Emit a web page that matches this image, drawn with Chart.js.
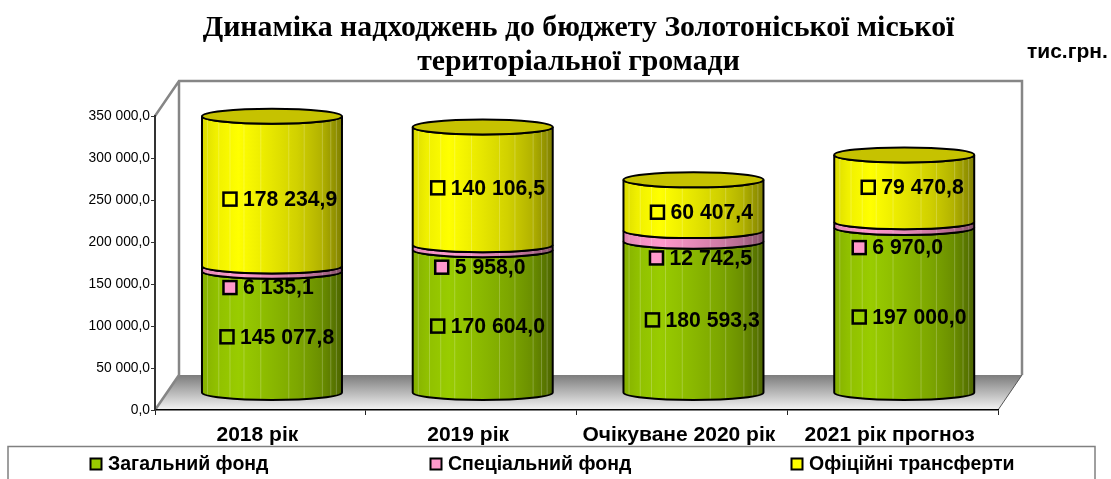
<!DOCTYPE html>
<html>
<head>
<meta charset="utf-8">
<title>Динаміка надходжень</title>
<script src="https://cdn.jsdelivr.net/npm/chart.js@4"></script>
<style>
  html, body { margin: 0; padding: 0; background: #fff; }
  canvas { display: block; }
</style>
</head>
<body>
<canvas id="budgetChart" width="1111" height="479"></canvas>
<script>
const categories = ["2018 рік", "2019 рік", "Очікуване 2020 рік", "2021 рік прогноз"];
const seriesNames = ["Загальний фонд", "Спеціальний фонд", "Офіційні трансферти"];
const generalFund = [145077.8, 170604.0, 180593.3, 197000.0];
const specialFund = [6135.1, 5958.0, 12742.5, 6970.0];
const transfers = [178234.9, 140106.5, 60407.4, 79470.8];
const titleLines = ["Динаміка надходжень до бюджету Золотоніської міської", "територіальної громади"];
const unitLabel = "тис.грн.";

const seriesColors = [[153, 204, 0], [255, 153, 204], [255, 255, 0]];
const capColor = "#c6c200";

// hand-moved labels in the original: offset of each label marker from its segment centre
const labelShiftX = [[-45, -45, -41, -45], [-42, -41, -37, -45], [-42, -45, -36, -36]];
const labelShiftY = [[5, 5, 3, 7], [19, 20, 22, 23], [8, 2, 7, -1]];

// 3D look: how far the back wall sits from the front axes
const depthX = 24, depthY = 35;
const barShiftX = 11.6, barShiftY = 17, capRy = 7.5;
const shadeStops = [[0, .86], [.1, .94], [.26, 1], [.45, .92], [.68, .82], [.85, .7], [1, .5]];
const streaks = [.04, .12, .2, .3, .42, .62, .73, .86, .92, .96];

const rgb = (c, k = 1) => `rgb(${c.map(v => Math.round(v * k)).join(",")})`;
const fmt = v => v.toFixed(1).replace(".", ",").replace(/\B(?=(\d{3})+(?!\d))/g, " ");

const scene3d = {
  id: "scene3d",
  afterLayout(chart) {
    chart.titleBlock.left += 4; // title is a touch right of the plot centre
  },
  beforeDraw(chart) {
    const { ctx, chartArea: a } = chart;
    ctx.save();
    // floor
    const floor = ctx.createLinearGradient(0, a.bottom - depthY, 0, a.bottom);
    floor.addColorStop(0, "#7c7c7c");
    floor.addColorStop(1, "#f4f4f4");
    ctx.fillStyle = floor;
    ctx.beginPath();
    ctx.moveTo(a.left + depthX, a.bottom - depthY);
    ctx.lineTo(a.right + depthX, a.bottom - depthY);
    ctx.lineTo(a.right, a.bottom);
    ctx.lineTo(a.left, a.bottom);
    ctx.closePath();
    ctx.fill();
    // walls
    ctx.strokeStyle = "#868686";
    ctx.lineWidth = 2.5;
    ctx.beginPath();
    ctx.moveTo(a.left, a.top);
    ctx.lineTo(a.left + depthX, a.top - depthY);
    ctx.lineTo(a.right + depthX, a.top - depthY);
    ctx.lineTo(a.right + depthX, a.bottom - depthY);
    ctx.moveTo(a.left + depthX, a.top - depthY);
    ctx.lineTo(a.left + depthX, a.bottom - depthY);
    ctx.lineTo(a.left, a.bottom);
    ctx.stroke();
    ctx.lineWidth = 1;
    ctx.strokeStyle = "#555";
    ctx.beginPath();
    ctx.moveTo(a.right + depthX, a.bottom - depthY);
    ctx.lineTo(a.right, a.bottom);
    ctx.stroke();
    ctx.restore();
  },
  afterDatasetsDraw(chart) {
    const { ctx } = chart;
    categories.forEach((_, i) => {
      seriesNames.forEach((_, s) => {
        const el = chart.getDatasetMeta(s).data[i];
        const cx = el.x + barShiftX, rx = el.width / 2;
        const top = el.y - barShiftY, bottom = el.base - barShiftY;
        const left = cx - rx, right = cx + rx;
        const grad = ctx.createLinearGradient(left, 0, right, 0);
        shadeStops.forEach(([p, k]) => grad.addColorStop(p, rgb(seriesColors[s], k)));

        const body = new Path2D();
        body.moveTo(left, top);
        body.lineTo(left, bottom);
        body.ellipse(cx, bottom, rx, capRy, 0, Math.PI, 0, true);
        body.lineTo(right, top);
        body.ellipse(cx, top, rx, capRy, 0, 0, Math.PI, false);
        body.closePath();

        ctx.save();
        ctx.fillStyle = grad;
        ctx.fill(body);
        // faint vertical bands of the old Excel gradient
        ctx.save();
        ctx.clip(body);
        ctx.strokeStyle = "rgba(255,255,255,.22)";
        ctx.lineWidth = 1;
        streaks.forEach(p => {
          ctx.beginPath();
          ctx.moveTo(left + p * el.width, top - capRy);
          ctx.lineTo(left + p * el.width, bottom + capRy);
          ctx.stroke();
        });
        ctx.restore();
        ctx.strokeStyle = "#000";
        ctx.lineWidth = 2;
        ctx.stroke(body);
        if (s === seriesNames.length - 1) {
          ctx.beginPath();
          ctx.ellipse(cx, top, rx, capRy, 0, 0, Math.PI * 2);
          ctx.fillStyle = capColor;
          ctx.fill();
          ctx.stroke();
        }
        ctx.restore();
      });
    });
    // labels go on top of all the cylinders
    ctx.save();
    ctx.textBaseline = "middle";
    ctx.textAlign = "left";
    ctx.font = "bold 21.2px 'Liberation Sans'";
    categories.forEach((_, i) => {
      seriesNames.forEach((_, s) => {
        const el = chart.getDatasetMeta(s).data[i];
        const mx = el.x + barShiftX + labelShiftX[s][i];
        const my = (el.y + el.base) / 2 - barShiftY + labelShiftY[s][i];
        ctx.fillStyle = rgb(seriesColors[s]);
        ctx.strokeStyle = "#000";
        ctx.lineWidth = 2.5;
        ctx.fillRect(mx - 6.5, my - 6.5, 13, 13);
        ctx.strokeRect(mx - 6.5, my - 6.5, 13, 13);
        ctx.fillStyle = "#000";
        ctx.fillText(fmt(chart.data.datasets[s].data[i]), mx + 13, my + 1);
      });
    });
    ctx.restore();
  },
  afterDraw(chart) {
    const { ctx } = chart;
    ctx.save();
    // unit note
    ctx.fillStyle = "#000";
    ctx.textBaseline = "middle";
    ctx.textAlign = "left";
    ctx.font = "bold 21px 'Liberation Sans'";
    ctx.fillText(unitLabel, 1027, 52);
    // legend box
    ctx.strokeStyle = "#808080";
    ctx.lineWidth = 1.5;
    ctx.strokeRect(8, 446.5, 1087, 40);
    const legendX = [96, 436, 797];
    ctx.font = "bold 19.5px 'Liberation Sans'";
    seriesNames.forEach((name, s) => {
      ctx.fillStyle = rgb(seriesColors[s]);
      ctx.strokeStyle = "#000";
      ctx.lineWidth = 2;
      ctx.fillRect(legendX[s] - 5.5, 458.5, 11, 11);
      ctx.strokeRect(legendX[s] - 5.5, 458.5, 11, 11);
      ctx.fillStyle = "#000";
      ctx.fillText(name, legendX[s] + 12, 465);
    });
    ctx.restore();
  }
};

const makeSet = (i, data) => ({
  label: seriesNames[i],
  data,
  backgroundColor: "transparent", // the cylinders are painted by scene3d from these bars
  barPercentage: 140 / 210.75,
  categoryPercentage: 1
});

new Chart(document.getElementById("budgetChart"), {
  type: "bar",
  data: {
    labels: categories,
    datasets: [makeSet(0, generalFund), makeSet(1, specialFund), makeSet(2, transfers)]
  },
  plugins: [scene3d],
  options: {
    responsive: false,
    animation: false,
    layout: { padding: { left: 0, right: 113, top: 0, bottom: 0 } },
    plugins: {
      legend: { display: false },
      tooltip: { enabled: false },
      title: {
        display: true,
        fullSize: false,
        text: titleLines,
        color: "#000",
        font: { family: "'Liberation Serif'", size: 29.8, weight: "bold", lineHeight: 34 / 29.8 },
        padding: { top: 11, bottom: 37 }
      }
    },
    scales: {
      x: {
        stacked: true,
        afterFit(scale) { scale.height = 69; },
        grid: { drawOnChartArea: false, color: "#222", tickLength: 5 },
        border: { color: "#000", width: 1.5 },
        ticks: {
          color: "#000",
          labelOffset: -3,
          padding: 8,
          maxRotation: 0,
          font: { family: "'Liberation Sans'", size: 21, weight: "bold" }
        }
      },
      y: {
        stacked: true,
        min: 0,
        max: 350000,
        afterFit(scale) { scale.width = 155; },
        grid: { drawOnChartArea: false, color: "#333", tickLength: 4 },
        border: { color: "#333", width: 2 },
        ticks: {
          stepSize: 50000,
          color: "#000",
          padding: 1,
          callback: v => fmt(v),
          font: { family: "'Liberation Sans'", size: 13.8 }
        }
      }
    }
  }
});
</script>
</body>
</html>
